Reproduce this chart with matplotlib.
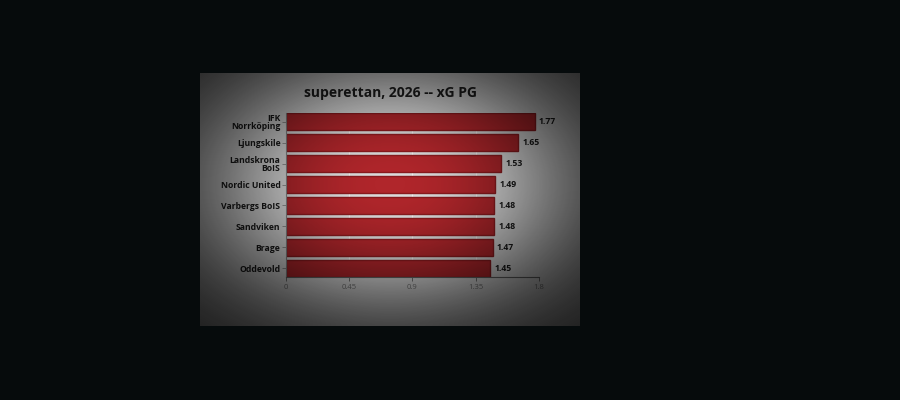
import matplotlib.pyplot as plt
import numpy as np

# xG per game, superettan 2026
teams = ["IFK\nNorrköping", "Ljungskile", "Landskrona\nBoIS", "Nordic United",
         "Varbergs BoIS", "Sandviken", "Brage", "Oddevold"]
xg_pg = [1.77, 1.65, 1.53, 1.49, 1.48, 1.48, 1.47, 1.45]
ticks = [0, 0.45, 0.9, 1.35, 1.8]
tick_labels = ["0", "0.45", "0.9", "1.35", "1.8"]

plt.rcParams['font.family'] = ['Open Sans', 'DejaVu Sans']

fig = plt.figure(figsize=(9, 4), dpi=100)
fig.patch.set_facecolor('#060b0c')

# light panel behind the chart
pan = fig.add_axes([200/900, 1-326/400, 380/900, 253/400])
pan.set_xlim(0, 1); pan.set_ylim(0, 1)
pan.imshow(np.ones((2, 2, 3)) * 0.86, extent=[0, 1, 0, 1], aspect='auto')
pan.axis('off')

ax = fig.add_axes([286/900, 1-277/400, 253/900, 164/400])
ax.patch.set_alpha(0)
y = np.arange(len(teams))
for t in ticks[1:]:
    ax.axvline(t, color='white', lw=0.8, alpha=0.6, zorder=0)
bars = ax.barh(y, xg_pg, height=0.8, color='#b0262b', edgecolor='#8a1b1f', lw=1, zorder=2)
for yi, v in zip(y, xg_pg):
    ax.text(v + 0.03, yi, f"{v:.2f}", va='center', ha='left', fontsize=6.2,
            fontweight='bold', color='#1a1a1a')
ax.set_xlim(0, 1.8)
ax.set_ylim(len(teams) - 0.58, -0.42)
ax.set_yticks(y)
ax.set_yticklabels(teams, fontsize=6.2, fontweight='bold', color='#1a1a1a', linespacing=0.9)
ax.set_xticks(ticks)
ax.set_xticklabels(tick_labels, fontsize=5.5, color='#777777')
for s in ['top', 'right']:
    ax.spines[s].set_visible(False)
ax.spines['left'].set_color('#888888')
ax.spines['bottom'].set_color('#666666')
ax.tick_params(axis='y', length=3, width=0.6, color='#888888', pad=1)
ax.tick_params(axis='x', length=3, width=0.6, color='#666666', pad=2)

fig.text(390/900, 1-93/400, "superettan, 2026 -- xG PG", ha='center', va='center',
         fontsize=10, fontweight='bold', color='#1e1e1e')

# vignette over the panel
ov = fig.add_axes([200/900, 1-326/400, 380/900, 253/400], zorder=10)
gx, gy = np.meshgrid(np.linspace(-1, 1, 300), np.linspace(-1, 1, 300))
r = np.sqrt(gx ** 2 + (gy + 0.12) ** 2)
alpha = 0.9 * (1 - np.exp(-(r / 0.95) ** 2.2))
img = np.zeros((300, 300, 4))
img[..., 3] = alpha
ov.imshow(img, extent=[0, 1, 0, 1], aspect='auto', interpolation='bilinear')
ov.axis('off')

fig.savefig('out.png', dpi=100, facecolor=fig.get_facecolor())
